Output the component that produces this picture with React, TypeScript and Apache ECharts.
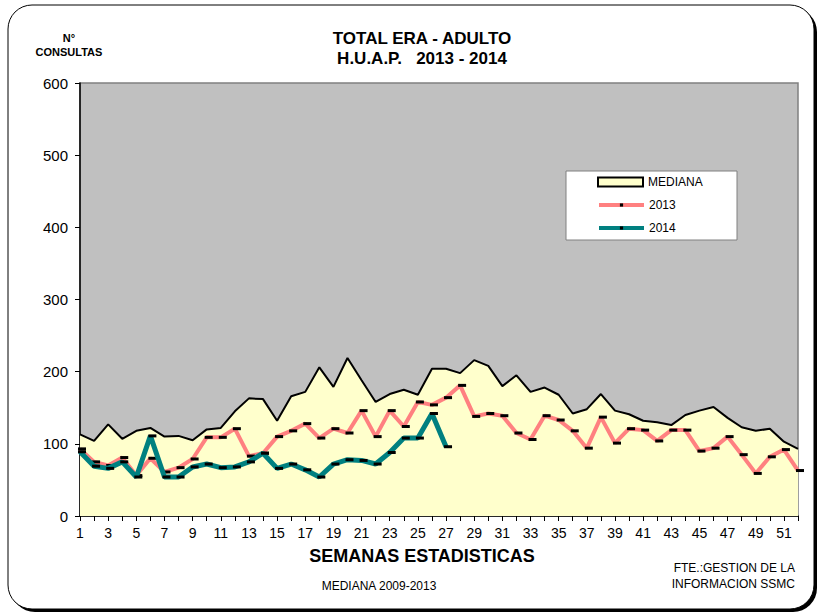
import React, { useEffect, useRef } from "react";
import * as echarts from "echarts";

const weeks: string[] = Array.from({ length: 52 }, (_, i) => String(i + 1));

const mediana: number[] = [
  113, 104, 127, 107, 118, 122, 110, 111, 105, 120, 122, 145, 163, 162, 132, 166, 172, 206, 179, 219,
  188, 158, 169, 175, 168, 204, 204, 198, 216, 208, 180, 195, 172, 178, 168, 142, 148, 169, 146, 141,
  132, 130, 126, 140, 146, 151, 136, 123, 118, 121, 103, 93,
];

const y2013: number[] = [
  93, 75, 70, 81, 56, 80, 61, 67, 79, 109, 109, 121, 83, 87, 110, 118, 128, 108, 121, 115,
  146, 110, 146, 124, 158, 154, 164, 181, 138, 142, 139, 115, 106, 139, 133, 118, 94, 137, 101, 121,
  119, 104, 119, 119, 90, 94, 110, 85, 59, 82, 92, 63,
];

const y2014: number[] = [
  89, 69, 66, 75, 54, 111, 54, 54, 68, 72, 67, 68, 75, 87, 66, 72, 64, 54, 72, 78,
  77, 72, 88, 108, 108, 142, 96,
];

const FONT = "Arial, 'Liberation Sans', sans-serif";

export default function App() {
  const ref = useRef<HTMLDivElement>(null);
  useEffect(() => {
    document.body.style.margin = "0";
    const chart = echarts.init(ref.current!, null, { renderer: "svg" });
    const txt = (text: string, x: number, y: number, size: number, bold: boolean, align: string) => ({
      type: "text",
      x,
      y,
      z: 6,
      style: {
        text,
        fontFamily: FONT,
        fontWeight: bold ? "bold" : "normal",
        fontSize: size,
        fill: "#000",
        textAlign: align,
      },
    });
    chart.setOption({
      animation: false,
      textStyle: { fontFamily: FONT, color: "#000" },
      grid: {
        left: 80,
        right: 24,
        top: 83,
        bottom: 100,
        show: true,
        backgroundColor: "#c0c0c0",
        borderColor: "#808080",
        borderWidth: 1.5,
      },
      graphic: [
        {
          type: "rect",
          z: -20,
          silent: true,
          shape: { x: 11, y: 8, width: 806, height: 604, r: 24 },
          style: { fill: "#000" },
        },
        {
          type: "rect",
          z: -19,
          silent: true,
          shape: { x: 8, y: 5, width: 806, height: 604, r: 24 },
          style: { fill: "#fff", stroke: "#000", lineWidth: 1 },
        },
        {
          type: "rect",
          z: 5,
          silent: true,
          shape: { x: 566, y: 171, width: 171, height: 69 },
          style: { fill: "#fff", stroke: "#808080", lineWidth: 1 },
        },
        txt("TOTAL ERA - ADULTO", 422, 30, 17, true, "center"),
        txt("H.U.A.P.   2013 - 2014", 422, 50, 17, true, "center"),
        txt("N°", 69, 32, 11, true, "center"),
        txt("CONSULTAS", 69, 46, 11, true, "center"),
        txt("SEMANAS ESTADISTICAS", 422, 547, 18, true, "center"),
        txt("MEDIANA 2009-2013", 379, 580, 12, false, "center"),
        txt("FTE.:GESTION DE LA", 795, 562, 12, false, "right"),
        txt("INFORMACION SSMC", 795, 578, 12, false, "right"),
      ],
      legend: [
        {
          orient: "vertical",
          left: 597,
          top: 176,
          z: 10,
          padding: 0,
          itemWidth: 45,
          itemHeight: 9,
          textStyle: { fontFamily: FONT, fontSize: 12, color: "#000" },
          data: [
            {
              name: "MEDIANA",
              icon: "rect",
              itemStyle: { color: "#ffffcc", borderColor: "#000", borderWidth: 2 },
            },
          ],
        },
        {
          orient: "vertical",
          left: 597,
          top: 199,
          z: 10,
          padding: 0,
          itemGap: 11,
          itemWidth: 45,
          itemHeight: 4,
          textStyle: { fontFamily: FONT, fontSize: 12, color: "#000" },
          data: [
            { name: "2013", lineStyle: { width: 4, color: "#ff8080" } },
            { name: "2014", lineStyle: { width: 4, color: "#008080" } },
          ],
        },
      ],
      xAxis: {
        type: "category",
        data: weeks,
        boundaryGap: false,
        axisLine: { lineStyle: { color: "#000", width: 1.5 } },
        axisTick: { show: true, interval: 0, length: 5, lineStyle: { color: "#000" } },
        axisLabel: { interval: 1, fontSize: 14, color: "#000", margin: 10, fontFamily: FONT },
        splitLine: { show: false },
      },
      yAxis: {
        type: "value",
        min: 0,
        max: 600,
        interval: 100,
        axisLine: { show: true, lineStyle: { color: "#000", width: 1.5 } },
        axisTick: { show: true, length: 5, lineStyle: { color: "#000" } },
        axisLabel: { fontSize: 15, color: "#000", margin: 12, fontFamily: FONT },
        splitLine: { show: false },
      },
      series: [
        {
          name: "MEDIANA",
          type: "line",
          data: mediana,
          symbol: "none",
          lineStyle: { color: "#000", width: 2 },
          itemStyle: { color: "#ffffcc" },
          areaStyle: { color: "#ffffcc", opacity: 1 },
          z: 1,
        },
        {
          name: "2013",
          type: "line",
          data: y2013,
          symbol: "rect",
          symbolSize: [8, 3],
          symbolOffset: [2, 0],
          lineStyle: { color: "#ff8080", width: 4 },
          itemStyle: { color: "#000" },
          z: 3,
        },
        {
          name: "2014",
          type: "line",
          data: y2014,
          symbol: "rect",
          symbolSize: [8, 3],
          symbolOffset: [2, 0],
          lineStyle: { color: "#008080", width: 5 },
          itemStyle: { color: "#000" },
          z: 4,
        },
      ],
    });
    return () => chart.dispose();
  }, []);
  return <div ref={ref} style={{ width: 822, height: 616 }} />;
}
